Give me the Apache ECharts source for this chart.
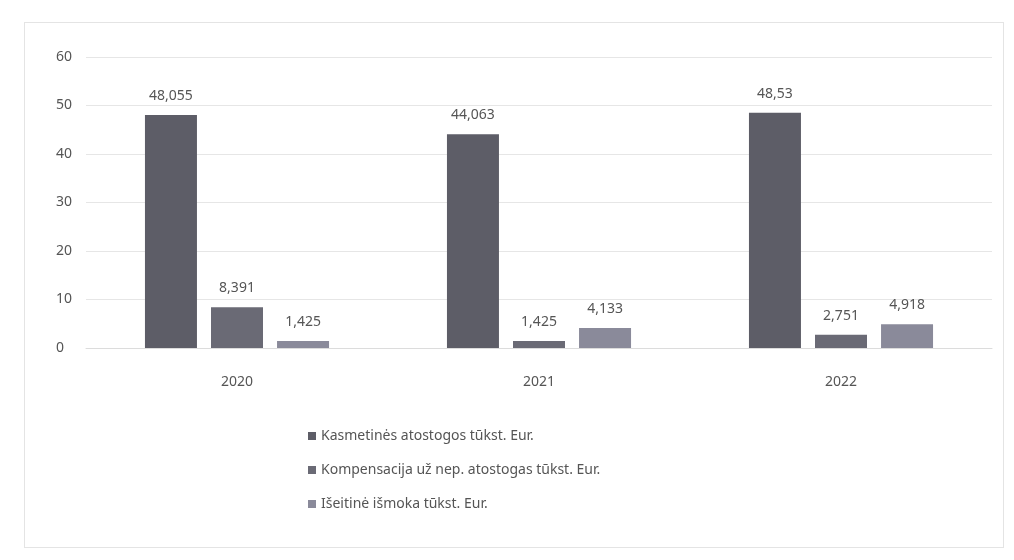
<!DOCTYPE html>
<html>
<head>
<meta charset="utf-8">
<script src="https://cdn.jsdelivr.net/npm/echarts@6/dist/echarts.min.js"></script>
<style>
html,body{margin:0;padding:0;background:#fff;}
#frame{position:absolute;left:24px;top:22px;width:980px;height:526px;border:1px solid #e4e4e4;box-sizing:border-box;}
#c{width:1014px;height:560px;}
</style>
</head>
<body>
<div id="frame"></div>
<div id="c"></div>
<script>
const categories = ['2020', '2021', '2022'];
const seriesNames = [
  'Kasmetinės atostogos tūkst. Eur.',
  'Kompensacija už nep. atostogas tūkst. Eur.',
  'Išeitinė išmoka tūkst. Eur.'
];
const annualLeave = [48.055, 44.063, 48.53];
const compensation = [8.391, 1.425, 2.751];
const severance = [1.425, 4.133, 4.918];
const yTicks = [0, 10, 20, 30, 40, 50, 60];

const colors = ['#5d5d67', '#6a6a75', '#8a8a9a'];
const font = 'Noto Sans';
const fmt = v => String(v.value).replace('.', ',');

const mk = (name, data, i) => ({
  name: name,
  type: 'bar',
  data: data,
  barWidth: 52,
  barGap: '27%',
  itemStyle: { color: colors[i] },
  label: { show: true, position: 'top', distance: 12, formatter: fmt,
           color: '#555', fontSize: 14, fontFamily: font }
});

const chart = echarts.init(document.getElementById('c'), null, { renderer: 'canvas' });
chart.setOption({
  animation: false,
  backgroundColor: 'transparent',
  grid: { left: 86, right: 22, top: 57, bottom: 212 },
  xAxis: {
    type: 'category', data: categories,
    axisLine: { show: true, lineStyle: { color: '#dcdcdc' } },
    axisTick: { show: false },
    axisLabel: { color: '#555', fontSize: 14, fontFamily: font, margin: 27 }
  },
  yAxis: {
    type: 'value', min: yTicks[0], max: yTicks[yTicks.length - 1], interval: 10,
    axisLine: { show: false }, axisTick: { show: false },
    splitLine: { lineStyle: { color: '#e6e6e6' } },
    axisLabel: { color: '#555', fontSize: 14, fontFamily: font, margin: 30, align: 'left',
                 formatter: v => yTicks.includes(v) ? String(v) : '' }
  },
  legend: {
    orient: 'vertical', left: 303, top: 424, itemGap: 20,
    itemWidth: 8, itemHeight: 8, icon: 'rect',
    textStyle: { color: '#555', fontSize: 14, fontFamily: font },
    data: seriesNames
  },
  series: [
    mk(seriesNames[0], annualLeave, 0),
    mk(seriesNames[1], compensation, 1),
    mk(seriesNames[2], severance, 2)
  ]
});
</script>
</body>
</html>
